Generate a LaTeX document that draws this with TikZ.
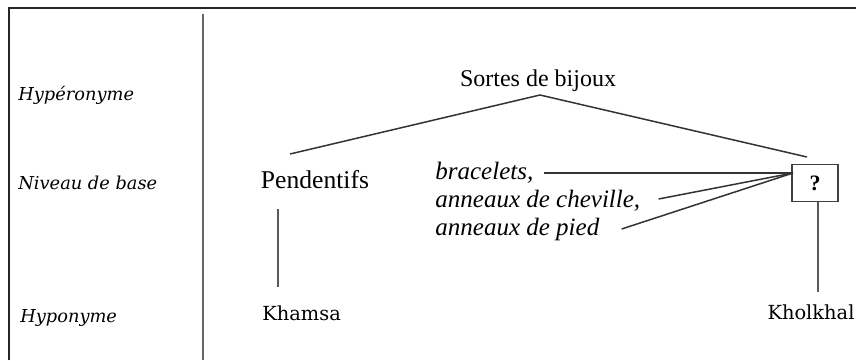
\documentclass[tikz,border=0pt]{standalone}
\usepackage{fontspec}
\setmainfont{Liberation Serif}
\newfontfamily\schfont{DejaVu Serif}
\begin{document}
\begin{tikzpicture}[x=0.5pt,y=-0.5pt,
  main/.style={inner sep=0pt,font=\fontsize{12}{14}\selectfont},
  ital/.style={inner sep=0pt,font=\fontsize{12.5}{14}\selectfont\itshape},
  lvl/.style={inner sep=0pt,anchor=west,font=\schfont\fontsize{8.9}{12}\selectfont\itshape},
  sch/.style={inner sep=0pt,font=\schfont\fontsize{9.7}{12}\selectfont},
  link/.style={draw=black!80,line width=0.75pt},
  vline/.style={draw=black!65,line width=0.75pt}]
\useasboundingbox (0,0) rectangle (856,360);
% frame and divider
\draw[black!85,line width=0.9pt] (9,360) -- (9,8) -- (856,8);
\draw[black!60,line width=0.9pt] (203,14) -- (203,360);
% level labels
\node[lvl] (hyper) at (18,95) {Hypéronyme};
\node[lvl] (base) at (18,183) {Niveau de base};
\node[lvl] (hypo) at (20,318) {Hyponyme};
% tree
\node[main] (sortes) at (538,81) {Sortes de bijoux};
\coordinate (apex) at (540,95);
\coordinate (pl) at (290,154);
\coordinate (pr) at (807,157);
\node[main,font=\fontsize{12.8}{14}\selectfont] (pend) at (315,180) {Pendentifs};
\node[draw=black!75,line width=0.75pt,minimum width=23pt,minimum height=18.5pt,inner sep=0pt,font=\bfseries\fontsize{11}{12}\selectfont] (q) at (815,183) {?};
\coordinate (hub) at (793,173);
\node[ital,anchor=west] (brac) at (435,173) {bracelets,};
\node[ital,anchor=west] (chev) at (435,201) {anneaux de cheville,};
\node[ital,anchor=west] (pied) at (435,229) {anneaux de pied};
\node[sch,anchor=west] (khamsa) at (262,313) {Khamsa};
\node[sch] (kholkhal) at (811,312) {Kholkhal};
\draw[link] (pl) -- (apex) -- (pr);
\draw[link] ([xshift=5pt]brac.east) -- (hub);
\draw[link] ([xshift=9pt,yshift=1pt]chev.east) -- (hub);
\draw[link] ([xshift=11pt]pied.east) -- (hub);
\draw[vline] (278,209) -- (278,287);
\draw[vline] ([xshift=1.5pt]q.south) -- (818,292);
\end{tikzpicture}
\end{document}
